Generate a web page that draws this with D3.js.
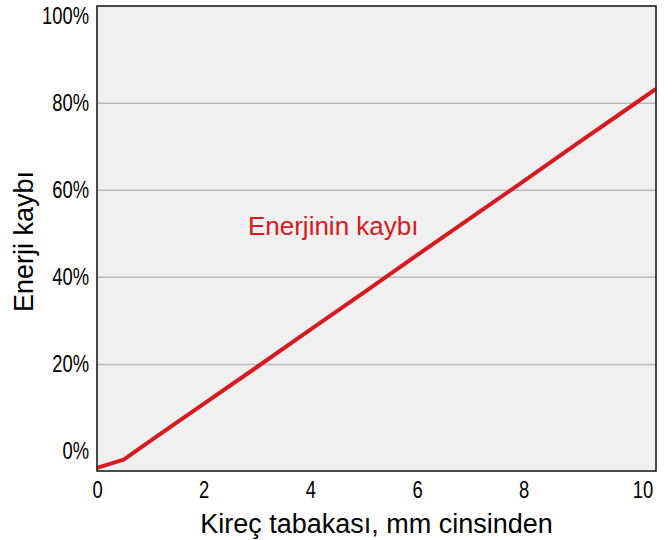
<!DOCTYPE html>
<html>
<head>
<meta charset="utf-8">
<script src="https://cdn.jsdelivr.net/npm/d3@7"></script>
<style>
  html, body { margin: 0; padding: 0; background: #ffffff; }
  svg { display: block; }
  text { font-family: "Liberation Sans", Arial, sans-serif; }
</style>
</head>
<body>
<svg id="chart" width="672" height="540"></svg>
<script>
// ---- data ----
const thickness = [0, 0.5, 1, 2, 3, 4, 5, 6, 7, 8, 9, 10, 10.48];
const energyLoss = [-3.8, -1.9, 2.4, 10.9, 19.4, 28.0, 36.5, 45.1, 53.6, 62.1, 70.7, 79.2, 83.3];
const xTicks = [0, 2, 4, 6, 8, 10];
const yTicks = [0, 20, 40, 60, 80, 100];
const gridTicks = [20, 40, 60, 80];
const seriesLabel = "Enerjinin kaybı";
const xTitle = "Kireç tabakası, mm cinsinden";
const yTitle = "Enerji kaybı";

// ---- layout ----
const svg = d3.select("#chart");
const pLeft = 97, pRight = 656, pTop = 6, pBottom = 471;
const tickFont = "'Liberation Sans', Arial, sans-serif";
const squeeze = 0.8;

const x = d3.scaleLinear().domain([0, 10.48]).range([pLeft, pRight]);
const y = d3.scaleLinear().domain([-4.5, 102.35]).range([pBottom, pTop]);

// plot background
svg.append("rect")
  .attr("x", pLeft).attr("y", pTop)
  .attr("width", pRight - pLeft).attr("height", pBottom - pTop)
  .attr("fill", "#f0f0f0");

// gridlines
svg.append("g").selectAll("line")
  .data(gridTicks).join("line")
  .attr("x1", pLeft).attr("x2", pRight)
  .attr("y1", d => y(d)).attr("y2", d => y(d))
  .attr("stroke", "#b9b9b9").attr("stroke-width", 1.5);

// line
const line = d3.line()
  .x((d, i) => x(thickness[i]))
  .y(d => y(d));
svg.append("path")
  .datum(energyLoss)
  .attr("d", line)
  .attr("fill", "none")
  .attr("stroke", "#d71920")
  .attr("stroke-width", 4)
  .attr("stroke-linejoin", "round");

// border
svg.append("rect")
  .attr("x", pLeft).attr("y", pTop)
  .attr("width", pRight - pLeft).attr("height", pBottom - pTop)
  .attr("fill", "none")
  .attr("stroke", "#111").attr("stroke-width", 1.5);

// y axis
const yAxis = d3.axisLeft(y).tickValues(yTicks).tickSize(0).tickPadding(8)
  .tickFormat(d => d + "%");
const gy = svg.append("g").attr("transform", `translate(${pLeft},0)`).call(yAxis);
gy.select(".domain").remove();
gy.selectAll("text").attr("font-size", 23).attr("fill", "#000")
  .attr("font-family", tickFont)
  .attr("x", -8 / squeeze)
  .attr("transform", `scale(${squeeze},1)`);

// x axis
const xAxis = d3.axisBottom(x).tickValues(xTicks).tickSize(0).tickPadding(11)
  .tickFormat(d3.format("d"));
const gx = svg.append("g").attr("transform", `translate(0,${pBottom})`).call(xAxis);
gx.select(".domain").remove();
gx.selectAll("text").attr("font-size", 23).attr("fill", "#000")
  .attr("font-family", tickFont)
  .attr("transform", `scale(${squeeze},1)`);
gx.selectAll(".tick").filter(d => d === 10).select("text").attr("dx", 12 / squeeze);

// series label
svg.append("text")
  .attr("x", x(2.83)).attr("y", 235)
  .attr("font-size", 26).attr("fill", "#d71920")
  .text(seriesLabel);

// axis titles
svg.append("text")
  .attr("x", (pLeft + pRight) / 2).attr("y", 533)
  .attr("text-anchor", "middle")
  .attr("font-size", 27).attr("fill", "#000")
  .text(xTitle);

svg.append("text")
  .attr("transform", `translate(33,${(pTop + pBottom) / 2 + 3}) rotate(-90)`)
  .attr("text-anchor", "middle")
  .attr("font-size", 27).attr("fill", "#000")
  .text(yTitle);
</script>
</body>
</html>
